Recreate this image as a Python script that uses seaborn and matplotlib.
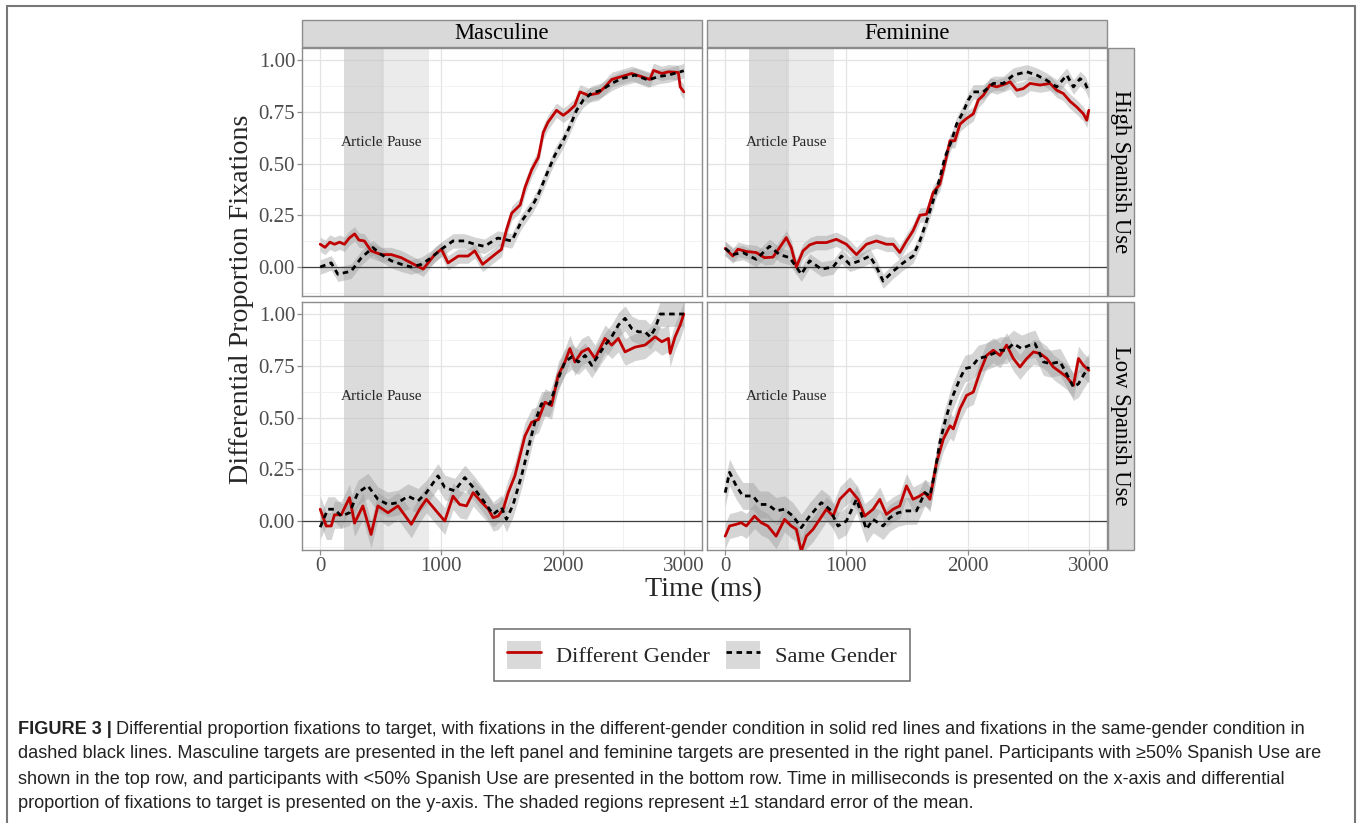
import numpy as np
import pandas as pd
import matplotlib
matplotlib.use('Agg')
import matplotlib.pyplot as plt
import seaborn as sns
from matplotlib.patches import Patch, Rectangle
from matplotlib.lines import Line2D
from matplotlib.ticker import FixedLocator

"""Values read off the figure (time in ms, differential proportion)"""
genders = ['Masculine', 'Feminine']
uses = ['High Spanish Use', 'Low Spanish Use']
conds = ['Different Gender', 'Same Gender']

# Masculine / High Spanish Use
mh_diff_t = [0, 40, 80, 118, 160, 200, 240, 284, 320, 364, 420, 504, 587, 670, 750, 850, 945, 1000, 1055, 1140,
             1220, 1275, 1340, 1440, 1495, 1537, 1580, 1650, 1690, 1745, 1800, 1840, 1880, 1950, 2005, 2045, 2100,
             2143, 2210, 2295, 2350, 2405, 2486, 2570, 2650, 2720, 2750, 2818, 2873, 2955, 2970, 3000]
mh_diff_y = [0.11, 0.095, 0.12, 0.11, 0.12, 0.11, 0.14, 0.16, 0.13, 0.126, 0.078, 0.06, 0.06, 0.045, 0.02, -0.01,
             0.06, 0.086, 0.02, 0.053, 0.053, 0.078, 0.013, 0.06, 0.085, 0.18, 0.26, 0.30, 0.385, 0.47, 0.53, 0.65,
             0.70, 0.757, 0.733, 0.75, 0.78, 0.846, 0.83, 0.84, 0.87, 0.906, 0.92, 0.935, 0.92, 0.906, 0.95, 0.935,
             0.943, 0.94, 0.87, 0.846]
mh_same_t = [0, 91, 146, 256, 340, 435, 504, 587, 670, 750, 835, 917, 1000, 1096, 1190, 1275, 1355, 1465, 1580,
             1660, 1745, 1800, 1870, 1936, 2005, 2060, 2115, 2170, 2240, 2320, 2405, 2486, 2597, 2707, 2790, 2873,
             3000]
mh_same_y = [0.0, 0.02, -0.035, -0.02, 0.045, 0.094, 0.06, 0.03, 0.013, 0.0, 0.013, 0.045, 0.086, 0.126, 0.126,
             0.11, 0.1, 0.14, 0.126, 0.22, 0.29, 0.35, 0.45, 0.54, 0.61, 0.68, 0.757, 0.806, 0.84, 0.854, 0.887,
             0.91, 0.927, 0.903, 0.92, 0.927, 0.948]

# Feminine / High Spanish Use
fh_diff_t = [0, 63, 105, 174, 256, 325, 394, 449, 504, 545, 587, 642, 697, 752, 835, 917, 1000, 1083, 1165, 1248,
             1330, 1386, 1440, 1496, 1550, 1606, 1661, 1716, 1771, 1813, 1854, 1895, 1937, 1990, 2047, 2088, 2130,
             2185, 2240, 2322, 2350, 2405, 2460, 2515, 2598, 2680, 2735, 2790, 2846, 2900, 2955, 2983, 3000]
fh_diff_y = [0.09, 0.053, 0.086, 0.075, 0.07, 0.045, 0.048, 0.094, 0.142, 0.094, 0.0, 0.078, 0.107, 0.118, 0.118,
             0.134, 0.11, 0.06, 0.11, 0.126, 0.11, 0.11, 0.07, 0.126, 0.175, 0.25, 0.255, 0.36, 0.40, 0.50, 0.61,
             0.61, 0.69, 0.717, 0.74, 0.806, 0.83, 0.88, 0.87, 0.887, 0.895, 0.854, 0.862, 0.887, 0.879, 0.887,
             0.854, 0.838, 0.80, 0.773, 0.74, 0.709, 0.757]
fh_same_t = [0, 63, 146, 256, 366, 449, 532, 587, 628, 697, 793, 890, 959, 1028, 1110, 1193, 1248, 1303, 1386,
             1468, 1550, 1606, 1661, 1716, 1771, 1813, 1868, 1909, 1964, 2005, 2047, 2130, 2212, 2295, 2377, 2488,
             2570, 2650, 2735, 2818, 2873, 2928, 2970, 3000]
fh_same_y = [0.09, 0.06, 0.07, 0.037, 0.1, 0.06, 0.045, 0.0, -0.035, 0.03, -0.01, 0.0, 0.053, 0.013, 0.03, 0.053,
             0.0, -0.068, -0.02, 0.02, 0.053, 0.126, 0.22, 0.32, 0.43, 0.53, 0.61, 0.69, 0.75, 0.806, 0.846, 0.846,
             0.887, 0.887, 0.927, 0.943, 0.927, 0.903, 0.87, 0.927, 0.87, 0.91, 0.887, 0.846]

# Masculine / Low Spanish Use
ml_diff_t = [0, 50, 91, 118, 174, 242, 284, 352, 420, 476, 559, 642, 752, 820, 876, 945, 1028, 1096, 1151, 1207,
             1262, 1333, 1388, 1427, 1468, 1510, 1551, 1606, 1634, 1689, 1744, 1800, 1855, 1909, 1964, 2019, 2060,
             2102, 2157, 2212, 2267, 2350, 2405, 2460, 2515, 2597, 2680, 2763, 2818, 2873, 2887, 2928, 2970, 3000]
ml_diff_y = [0.057, -0.024, -0.024, 0.03, 0.03, 0.113, -0.01, 0.073, -0.065, 0.073, 0.04, 0.073, -0.016, 0.057,
             0.105, 0.057, 0.0, 0.12, 0.08, 0.073, 0.137, 0.09, 0.057, 0.016, 0.024, 0.057, 0.137, 0.218, 0.283,
             0.41, 0.477, 0.49, 0.574, 0.558, 0.704, 0.768, 0.833, 0.768, 0.817, 0.833, 0.785, 0.882, 0.85, 0.882,
             0.817, 0.84, 0.85, 0.89, 0.866, 0.882, 0.81, 0.89, 0.947, 1.0]
ml_same_t = [0, 63, 118, 174, 242, 311, 394, 476, 559, 642, 725, 807, 876, 972, 1028, 1110, 1193, 1275, 1358,
             1427, 1496, 1537, 1592, 1661, 1716, 1771, 1826, 1895, 1964, 2019, 2075, 2130, 2185, 2240, 2295, 2350,
             2405, 2460, 2515, 2570, 2625, 2680, 2722, 2763, 2805, 3000]
ml_same_y = [-0.03, 0.057, 0.057, 0.024, 0.04, 0.137, 0.17, 0.105, 0.08, 0.089, 0.12, 0.097, 0.137, 0.218, 0.162,
             0.146, 0.21, 0.154, 0.089, 0.032, 0.065, 0.008, 0.08, 0.218, 0.348, 0.477, 0.566, 0.566, 0.688, 0.768,
             0.793, 0.768, 0.8, 0.752, 0.8, 0.85, 0.89, 0.947, 0.979, 0.93, 0.914, 0.914, 0.89, 0.93, 1.0, 1.0]

# Feminine / Low Spanish Use
fl_diff_t = [0, 36, 91, 132, 174, 242, 297, 352, 420, 490, 545, 587, 628, 670, 725, 780, 835, 890, 945, 1028,
             1096, 1151, 1220, 1275, 1330, 1385, 1440, 1496, 1550, 1606, 1647, 1689, 1744, 1800, 1855, 1882, 1937,
             1992, 2047, 2102, 2157, 2212, 2267, 2322, 2377, 2432, 2488, 2543, 2598, 2653, 2707, 2763, 2818, 2873,
             2915, 2955, 3000]
fl_diff_y = [-0.073, -0.024, -0.016, -0.008, -0.024, 0.024, -0.008, -0.024, -0.073, 0.008, -0.024, -0.04, -0.146,
             -0.073, -0.04, 0.008, 0.057, 0.024, 0.105, 0.154, 0.105, 0.024, 0.057, 0.105, 0.032, 0.057, 0.073,
             0.17, 0.105, 0.121, 0.137, 0.105, 0.283, 0.396, 0.46, 0.445, 0.542, 0.607, 0.623, 0.72, 0.8, 0.825,
             0.8, 0.85, 0.785, 0.744, 0.785, 0.817, 0.809, 0.785, 0.744, 0.72, 0.696, 0.655, 0.785, 0.752, 0.728]
fl_same_t = [0, 36, 91, 146, 229, 284, 352, 420, 490, 559, 628, 697, 793, 862, 931, 1000, 1083, 1165, 1220, 1303,
             1358, 1427, 1496, 1578, 1647, 1689, 1730, 1771, 1812, 1868, 1937, 1978, 2033, 2088, 2143, 2212, 2267,
             2322, 2377, 2446, 2515, 2556, 2625, 2680, 2763, 2818, 2873, 2915, 2955, 3000]
fl_same_y = [0.137, 0.235, 0.17, 0.121, 0.121, 0.08, 0.08, 0.049, 0.057, 0.024, -0.032, 0.024, 0.089, 0.057,
             -0.024, 0.0, 0.105, -0.04, 0.008, -0.024, 0.016, 0.04, 0.049, 0.049, 0.137, 0.121, 0.235, 0.38, 0.477,
             0.59, 0.688, 0.736, 0.744, 0.785, 0.793, 0.809, 0.825, 0.825, 0.857, 0.833, 0.85, 0.857, 0.769, 0.76,
             0.769, 0.71, 0.647, 0.663, 0.704, 0.744]

# standard error (half-width of the shaded ribbon) per series
se_values = {
    ('Masculine', 'High Spanish Use', 'Different Gender'): 0.035,
    ('Masculine', 'High Spanish Use', 'Same Gender'): 0.035,
    ('Feminine', 'High Spanish Use', 'Different Gender'): 0.035,
    ('Feminine', 'High Spanish Use', 'Same Gender'): 0.035,
    ('Masculine', 'Low Spanish Use', 'Different Gender'): 0.065,
    ('Masculine', 'Low Spanish Use', 'Same Gender'): 0.06,
    ('Feminine', 'Low Spanish Use', 'Different Gender'): 0.06,
    ('Feminine', 'Low Spanish Use', 'Same Gender'): 0.065,
}

# article and pause windows (ms)
article_window = (200, 530)
pause_window = (530, 900)

series = {
    ('Masculine', 'High Spanish Use', 'Different Gender'): (mh_diff_t, mh_diff_y),
    ('Masculine', 'High Spanish Use', 'Same Gender'): (mh_same_t, mh_same_y),
    ('Feminine', 'High Spanish Use', 'Different Gender'): (fh_diff_t, fh_diff_y),
    ('Feminine', 'High Spanish Use', 'Same Gender'): (fh_same_t, fh_same_y),
    ('Masculine', 'Low Spanish Use', 'Different Gender'): (ml_diff_t, ml_diff_y),
    ('Masculine', 'Low Spanish Use', 'Same Gender'): (ml_same_t, ml_same_y),
    ('Feminine', 'Low Spanish Use', 'Different Gender'): (fl_diff_t, fl_diff_y),
    ('Feminine', 'Low Spanish Use', 'Same Gender'): (fl_same_t, fl_same_y),
}

rows = []
for (gd, use, cond), (ts, ys) in series.items():
    for t, y in zip(ts, ys):
        rows.append({'gender': gd, 'use': use, 'cond': cond, 'time': t, 'prop': y,
                     'se': se_values[(gd, use, cond)]})
df = pd.DataFrame(rows)

"""Styling"""
sns.set_theme(style='white')
plt.rcParams['font.family'] = ['Liberation Serif', 'DejaVu Serif']

RED = '#C00000'
palette = {'Different Gender': RED, 'Same Gender': 'black'}
dashes = {'Different Gender': '', 'Same Gender': (2, 1.6)}
BORDER = '#8C8C8C'
W, H = 1357, 823

g = sns.FacetGrid(df, row='use', col='gender', row_order=uses, col_order=genders,
                  sharex=True, sharey=True, despine=False)
fig = g.figure
fig.set_size_inches(W / 100, H / 100)

panel_x = [302, 707]
panel_y = [48, 302]
pw, ph = 400, 248

for i, use in enumerate(uses):
    for j, gd in enumerate(genders):
        ax = g.axes[i, j]
        ax.set_position([panel_x[j] / W, 1 - (panel_y[i] + ph) / H, pw / W, ph / H])
        sub = df[(df['gender'] == gd) & (df['use'] == use)]

        ax.set_xlim(-150, 3150)
        ax.set_ylim(-0.14, 1.058)
        ax.xaxis.set_major_locator(FixedLocator([0, 1000, 2000, 3000]))
        ax.xaxis.set_minor_locator(FixedLocator([500, 1500, 2500]))
        ax.yaxis.set_major_locator(FixedLocator([0, 0.25, 0.5, 0.75, 1.0]))
        ax.yaxis.set_minor_locator(FixedLocator([-0.125, 0.125, 0.375, 0.625, 0.875]))
        ax.set_axisbelow(True)
        ax.grid(True, which='major', color='#E3E3E3', lw=0.9)
        ax.grid(True, which='minor', color='#EFEFEF', lw=0.6)

        ax.axvspan(*article_window, color='#BFBFBF', alpha=0.55, lw=0, zorder=1)
        ax.axvspan(*pause_window, color='#BFBFBF', alpha=0.3, lw=0, zorder=1)

        for cond in conds:
            c = sub[sub['cond'] == cond].sort_values('time')
            ax.fill_between(c['time'], c['prop'] - c['se'], c['prop'] + c['se'],
                            color='#999999', alpha=0.42, lw=0, zorder=2)
        ax.axhline(0, color='#404040', lw=0.9, zorder=3)

        sns.lineplot(data=sub, x='time', y='prop', hue='cond', style='cond',
                     hue_order=conds, style_order=conds, palette=palette, dashes=dashes,
                     estimator=None, sort=True, legend=False, lw=2.0, ax=ax, zorder=4)

        ax.text(article_window[1] - 5, 0.6, 'Article', ha='right', va='center', fontsize=11, zorder=5)
        ax.text(pause_window[0] + 15, 0.6, 'Pause', ha='left', va='center', fontsize=11, zorder=5)

        ax.set_xlabel('')
        ax.set_ylabel('')
        ax.set_title('')
        for s in ax.spines.values():
            s.set_color(BORDER)
            s.set_linewidth(1.0)
        ax.tick_params(axis='both', which='major', length=3.5, width=0.9, color=BORDER,
                       labelcolor='#4D4D4D', labelsize=15, pad=1.5, bottom=(i == 1), left=(j == 0))
        ax.tick_params(axis='both', which='minor', length=0)
        ax.yaxis.set_major_formatter(matplotlib.ticker.FormatStrFormatter('%.2f'))

        if i == 0:
            ax.add_patch(Rectangle((0, 1 + 1 / ph), 1, 27 / ph, transform=ax.transAxes, clip_on=False,
                                   fc='#D9D9D9', ec=BORDER, lw=1.0))
            ax.text(0.5, 1 + 14.5 / ph, gd, transform=ax.transAxes, ha='center', va='center',
                    fontsize=16.3, color='black')
        if j == 1:
            ax.add_patch(Rectangle((1 + 1 / pw, 0), 26 / pw, 1, transform=ax.transAxes, clip_on=False,
                                   fc='#D9D9D9', ec=BORDER, lw=1.0))
            ax.text(1 + 14 / pw, 0.5, use, transform=ax.transAxes, ha='center', va='center',
                    rotation=-90, fontsize=16.3, color='black')

fig.text(242 / W, 1 - 299 / H, 'Differential Proportion Fixations', rotation=90,
         ha='center', va='center', fontsize=20.2)
fig.text(703 / W, 1 - 590 / H, 'Time (ms)', ha='center', va='center', fontsize=20.2)

"""Legend"""
handles = [
    (Patch(fc='#D9D9D9', ec='none'), Line2D([], [], color=RED, lw=2)),
    (Patch(fc='#D9D9D9', ec='none'), Line2D([], [], color='black', lw=2, ls=(0, (2, 1.6)))),
]
leg = fig.legend(handles=handles, labels=conds, loc='center', bbox_to_anchor=(702 / W, 1 - 655 / H),
                 ncol=2, frameon=True, fancybox=False, fontsize=16.2, handlelength=1.5, handleheight=1.5,
                 handletextpad=0.7, columnspacing=0.7, borderpad=0.55, borderaxespad=0)
leg.get_frame().set_edgecolor('#555555')
leg.get_frame().set_linewidth(1.2)

"""Caption"""
cap_font = ['Liberation Sans', 'DejaVu Sans']
cap_size = 13.1
cap_lines = [
    'Differential proportion fixations to target, with fixations in the different-gender condition in solid red lines and fixations in the same-gender condition in',
    'dashed black lines. Masculine targets are presented in the left panel and feminine targets are presented in the right panel. Participants with \u226550% Spanish Use are',
    'shown in the top row, and participants with <50% Spanish Use are presented in the bottom row. Time in milliseconds is presented on the x-axis and differential',
    'proportion of fixations to target is presented on the y-axis. The shaded regions represent \u00b11 standard error of the mean.',
]
cap_y = [729, 754, 779, 803]
head = fig.text(18 / W, 1 - cap_y[0] / H, 'FIGURE 3 |', fontweight='bold', family=cap_font,
                fontsize=cap_size, ha='left', va='center', color='#222222')
fig.canvas.draw()
bb = head.get_window_extent()
fig.text((bb.x1 + 4) / W, 1 - cap_y[0] / H, cap_lines[0], family=cap_font, fontsize=cap_size,
         ha='left', va='center', color='#222222')
for line, yy in zip(cap_lines[1:], cap_y[1:]):
    fig.text(18 / W, 1 - yy / H, line, family=cap_font, fontsize=cap_size, ha='left', va='center',
             color='#222222')

"""Outer frame"""
fig.add_artist(Line2D([7 / W, 1355 / W], [1 - 6 / H, 1 - 6 / H], color='#777777', lw=1.5))
fig.add_artist(Line2D([7 / W, 7 / W], [0, 1 - 6 / H], color='#777777', lw=1.5))
fig.add_artist(Line2D([1355 / W, 1355 / W], [0, 1 - 6 / H], color='#777777', lw=1.5))

fig.savefig('out.png', dpi=100)
